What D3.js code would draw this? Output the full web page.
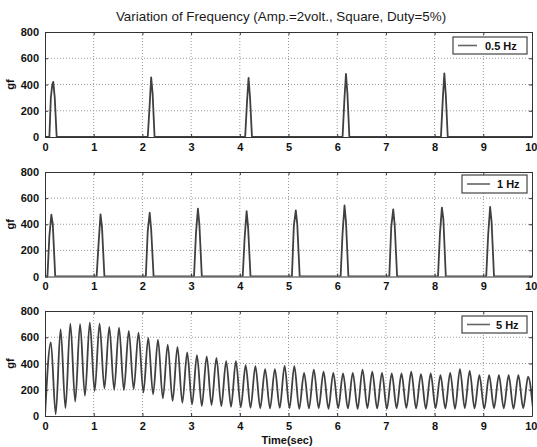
<!DOCTYPE html>
<html>
<head>
<meta charset="utf-8">
<script src="https://cdn.jsdelivr.net/npm/d3@7"></script>
<style>
    body { margin: 0; background: #fff; }
    svg { display: block; font-family: "Liberation Sans", Arial, sans-serif; }
</style>
</head>
<body>
<svg id="chart"></svg>
<script>
const title = "Variation of Frequency (Amp.=2volt., Square, Duty=5%)";
const xTicks = [0, 1, 2, 3, 4, 5, 6, 7, 8, 9, 10];
const yTicks = [0, 200, 400, 600, 800];
const legendLabels = ["0.5 Hz", "1 Hz", "5 Hz"];

// 0.5 Hz pulses, [time, gf]
const pulses05 = [
    [0, 0], [0.09, 0], [0.12, 300], [0.15, 400], [0.17, 420], [0.20, 300], [0.24, 0],
    [2.11, 0], [2.15, 250], [2.18, 455], [2.21, 330], [2.25, 0],
    [4.11, 0], [4.15, 280], [4.18, 450], [4.21, 300], [4.25, 0],
    [6.11, 0], [6.15, 300], [6.18, 480], [6.21, 330], [6.25, 0],
    [8.13, 0], [8.17, 300], [8.20, 485], [8.23, 320], [8.27, 0], [10, 0]
];

// 1 Hz pulses, [time, gf]
const pulses1 = [
    [0, 0], [0.05, 0], [0.09, 310], [0.13, 473], [0.16, 400], [0.21, 0],
    [1.06, 0], [1.10, 250], [1.14, 476], [1.17, 380], [1.22, 0],
    [2.07, 0], [2.11, 350], [2.15, 488], [2.18, 360], [2.23, 0],
    [3.06, 0], [3.10, 330], [3.14, 519], [3.17, 400], [3.22, 0],
    [4.06, 0], [4.10, 300], [4.14, 501], [4.17, 380], [4.22, 0],
    [5.07, 0], [5.11, 390], [5.15, 506], [5.18, 400], [5.23, 0],
    [6.07, 0], [6.11, 330], [6.15, 544], [6.18, 420], [6.23, 0],
    [7.07, 0], [7.11, 380], [7.15, 514], [7.18, 400], [7.23, 0],
    [8.07, 0], [8.11, 330], [8.15, 527], [8.18, 440], [8.23, 0],
    [9.06, 0], [9.10, 320], [9.14, 532], [9.17, 420], [9.22, 0], [10, 0]
];

// 5 Hz: one peak and one trough per cycle
const period5 = 0.2;
const firstPeak5 = 0.12;
const peaks5 = [
    560, 661, 704, 699, 711, 704, 679, 674, 648, 636,
    595, 582, 544, 527, 484, 463, 455, 443, 418, 418,
    387, 380, 357, 357, 382, 380, 329, 354, 337, 329,
    324, 329, 354, 337, 329, 324, 324, 337, 319, 324,
    311, 329, 357, 344, 311, 311, 311, 311, 311, 299
];
const troughs5 = [
    13, 60, 109, 154, 190, 210, 200, 197, 205, 180,
    165, 134, 114, 101, 89, 76, 84, 75, 70, 66,
    62, 60, 58, 62, 60, 55, 58, 60, 55, 60,
    58, 55, 60, 58, 55, 60, 62, 58, 55, 60,
    58, 55, 60, 58, 55, 60, 58, 55, 60, 58
];

const series5 = [[0, 0]];
peaks5.forEach((p, i) => {
    series5.push([firstPeak5 + i * period5, p]);
    series5.push([firstPeak5 + i * period5 + period5 / 2, troughs5[i]]);
});

const width = 537, height = 447;
const margin = {left: 45, right: 5};
const panels = [
    {top: 32, bottom: 137, data: pulses05, label: legendLabels[0], curve: d3.curveLinear,
        legend: {x0: 453, x1: 527, y0: 37, y1: 54, lx0: 458, lx1: 477, tx: 485}},
    {top: 172, bottom: 276.5, data: pulses1, label: legendLabels[1], curve: d3.curveLinear,
        legend: {x0: 462, x1: 527, y0: 175, y1: 193, lx0: 467, lx1: 490, tx: 497}},
    {top: 311, bottom: 416, data: series5, label: legendLabels[2], curve: d3.curveMonotoneX,
        legend: {x0: 462, x1: 527, y0: 316, y1: 333, lx0: 467, lx1: 490, tx: 496}}
];

const svg = d3.select("#chart")
    .attr("width", width)
    .attr("height", height);

const x = d3.scaleLinear()
    .domain([0, 10])
    .range([margin.left, 532]);

svg.append("text")
    .attr("x", 281)
    .attr("y", 21)
    .attr("text-anchor", "middle")
    .attr("font-size", 13.4)
    .attr("fill", "#1a1a1a")
    .text(title);

panels.forEach((p, i) => {
    const y = d3.scaleLinear()
        .domain([0, 800])
        .range([p.bottom, p.top]);

    const g = svg.append("g");

    // grid
    g.selectAll(".vgrid")
        .data(xTicks.slice(1, -1))
        .join("line")
        .attr("x1", d => x(d)).attr("x2", d => x(d))
        .attr("y1", p.top).attr("y2", p.bottom)
        .attr("stroke", "#999")
        .attr("stroke-dasharray", "1,2");

    g.selectAll(".hgrid")
        .data(yTicks.slice(1, -1))
        .join("line")
        .attr("x1", x(0)).attr("x2", x(10))
        .attr("y1", d => y(d)).attr("y2", d => y(d))
        .attr("stroke", "#999")
        .attr("stroke-dasharray", "1,2");

    // trace
    const clipId = "clip" + i;
    svg.append("clipPath").attr("id", clipId)
        .append("rect")
        .attr("x", x(0)).attr("y", p.top)
        .attr("width", x(10) - x(0)).attr("height", p.bottom - p.top);

    const line = d3.line()
        .x(d => x(d[0]))
        .y(d => y(d[1]))
        .curve(p.curve);

    g.append("path")
        .datum(p.data)
        .attr("clip-path", `url(#${clipId})`)
        .attr("d", line)
        .attr("fill", "none")
        .attr("stroke", "#404040")
        .attr("stroke-width", 1.8)
        .attr("stroke-linejoin", "round");

    // axes
    const bottomAxis = d3.axisBottom(x).tickValues(xTicks).tickSizeInner(-3).tickSizeOuter(0).tickPadding(6);
    const topAxis = d3.axisTop(x).tickValues(xTicks).tickSizeInner(-3).tickSizeOuter(0).tickFormat("");
    const leftAxis = d3.axisLeft(y).tickValues(yTicks).tickSizeInner(-3).tickSizeOuter(0).tickPadding(6);
    const rightAxis = d3.axisRight(y).tickValues(yTicks).tickSizeInner(-3).tickSizeOuter(0).tickFormat("");

    const bx = g.append("g").attr("transform", `translate(0,${p.bottom})`).call(bottomAxis);
    g.append("g").attr("transform", `translate(0,${p.top})`).call(topAxis);
    g.append("g").attr("transform", `translate(${x(0)},0)`).call(leftAxis);
    g.append("g").attr("transform", `translate(${x(10)},0)`).call(rightAxis);

    // the last label sits at the window edge
    bx.selectAll(".tick text").filter(d => d === 10)
        .attr("text-anchor", "end")
        .attr("dx", 5);

    g.selectAll(".domain").attr("stroke", "#333");
    g.selectAll(".tick line").attr("stroke", "#333");
    g.selectAll(".tick text")
        .attr("font-family", "'Liberation Sans', Arial, sans-serif")
        .attr("font-size", 11)
        .attr("font-weight", "bold")
        .attr("fill", "#111");

    g.append("text")
        .attr("transform", `translate(14,${(p.top + p.bottom) / 2}) rotate(-90)`)
        .attr("text-anchor", "middle")
        .attr("font-size", 11)
        .attr("font-weight", "bold")
        .attr("fill", "#111")
        .text("gf");

    // legend
    const L = p.legend;
    g.append("rect")
        .attr("x", L.x0).attr("y", L.y0)
        .attr("width", L.x1 - L.x0).attr("height", L.y1 - L.y0)
        .attr("fill", "#fff")
        .attr("stroke", "#444")
        .attr("stroke-width", 1.2);
    g.append("line")
        .attr("x1", L.lx0).attr("x2", L.lx1)
        .attr("y1", (L.y0 + L.y1) / 2).attr("y2", (L.y0 + L.y1) / 2)
        .attr("stroke", "#666")
        .attr("stroke-width", 1.6);
    g.append("text")
        .attr("x", L.tx)
        .attr("y", (L.y0 + L.y1) / 2 + 4)
        .attr("font-size", 11)
        .attr("font-weight", "bold")
        .attr("fill", "#111")
        .text(p.label);
});

svg.append("text")
    .attr("x", 287)
    .attr("y", 444)
    .attr("text-anchor", "middle")
    .attr("font-size", 11)
    .attr("font-weight", "bold")
    .attr("fill", "#111")
    .text("Time(sec)");
</script>
</body>
</html>
